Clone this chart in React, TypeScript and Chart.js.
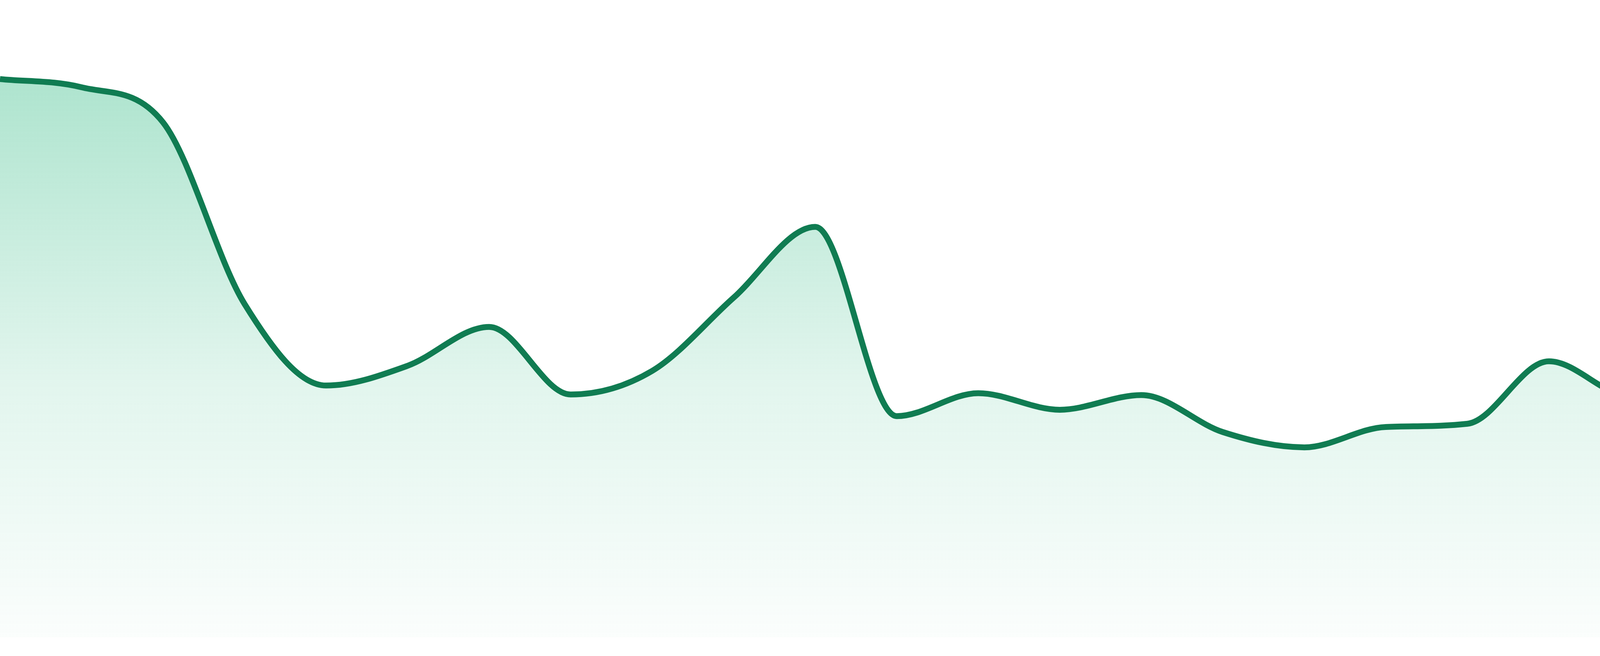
import React, { useEffect, useRef } from "react";
import { Chart, registerables } from "chart.js";

Chart.register(...registerables);

const labels: string[] = [
  "1", "2", "3", "4", "5", "6", "7", "8", "9", "10", "11", "12",
  "13", "14", "15", "16", "17", "18", "19", "20", "21", "22", "23", "24",
];

const values: number[] = [
  87.6, 86.3, 80.8, 52.3, 39.5, 42.6, 48.7, 38.1, 41.8, 53.3, 64.4, 34.7,
  38.3, 35.7, 38.0, 32.2, 29.8, 33.0, 33.5, 43.3, 37.8, 42.2, 38.2, 31.3,
];

const LINE_COLOR = "#107c52";

export default function App() {
  const ref = useRef<HTMLCanvasElement | null>(null);

  useEffect(() => {
    document.body.style.margin = "0";
    document.body.style.overflow = "hidden";
    document.documentElement.style.overflow = "hidden";
    const canvas = ref.current;
    if (!canvas) return;
    const chart = new Chart(canvas, {
      type: "line",
      data: {
        labels,
        datasets: [
          {
            data: values,
            borderColor: LINE_COLOR,
            borderWidth: 15,
            pointRadius: 0,
            pointHoverRadius: 0,
            cubicInterpolationMode: "monotone",
            fill: "origin",
            backgroundColor: (ctx: any) => {
              const { chart } = ctx;
              const area = chart.chartArea;
              if (!area) return "rgba(30,180,120,0.2)";
              const g = chart.ctx.createLinearGradient(0, area.top, 0, area.bottom);
              g.addColorStop(0, "rgba(30,180,120,0.42)");
              g.addColorStop(0.6, "rgba(30,180,120,0.13)");
              g.addColorStop(1, "rgba(30,180,120,0.02)");
              return g;
            },
          },
        ],
      },
      options: {
        animation: false,
        responsive: true,
        maintainAspectRatio: false,
        layout: { padding: { left: 0, right: 0, top: 0, bottom: 48 } },
        plugins: {
          legend: { display: false },
          tooltip: { enabled: false },
        },
        scales: {
          x: { display: false, offset: false },
          y: { display: false, min: 0, max: 100 },
        },
      },
    });
    return () => chart.destroy();
  }, []);

  return (
    <div
      style={{
        position: "fixed",
        left: 0,
        top: 0,
        width: "4800px",
        height: "1680px",
        overflow: "hidden",
      }}
    >
      <canvas ref={ref} style={{ display: "block" }} />
    </div>
  );
}
